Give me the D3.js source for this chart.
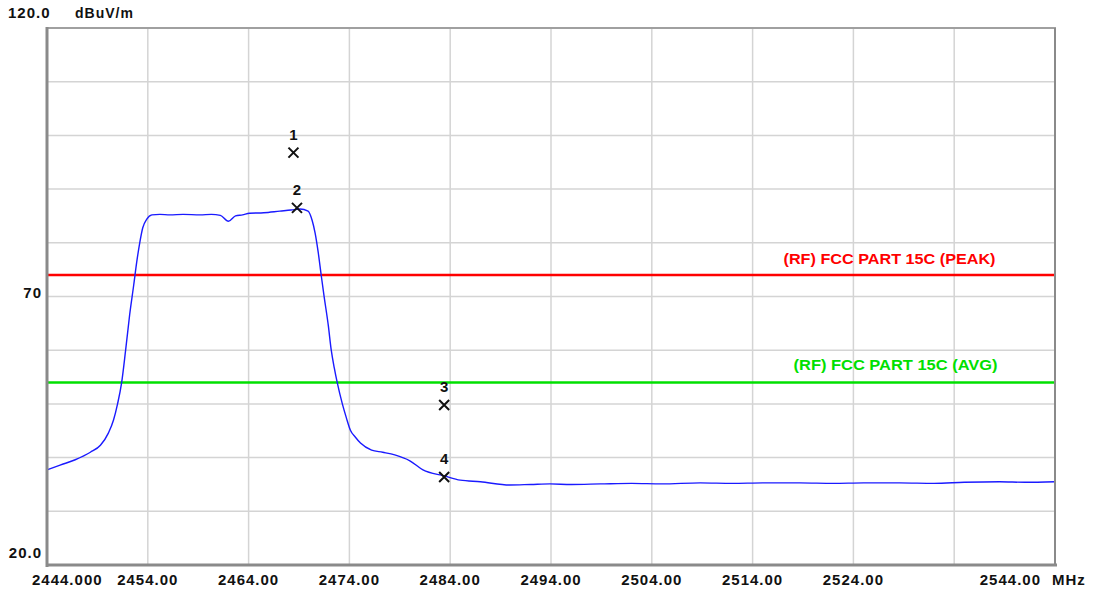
<!DOCTYPE html>
<html><head><meta charset="utf-8">
<script src="https://cdn.jsdelivr.net/npm/d3@7"></script>
<style>
html,body{margin:0;padding:0;background:#fff;}
text{font-family:"Liberation Sans",Arial,sans-serif;font-weight:bold;}
</style></head>
<body><svg id="c" width="1094" height="591"></svg>
<script>
// ---- data ----
const freqMHz = [2444.0,2445.3,2446.8,2448.3,2449.3,2450.1,2450.6,2451.0,2451.4,2451.8,2452.2,2452.6,2452.9,2453.2,2453.5,2453.9,2454.4,2455.2,2456.2,2457.5,2459.2,2460.3,2461.2,2462.0,2462.7,2463.4,2464.1,2465.5,2467.1,2468.2,2469.1,2469.9,2470.3,2470.6,2470.9,2471.2,2471.5,2471.9,2472.2,2472.5,2472.8,2473.3,2473.7,2474.1,2474.6,2475.1,2476.2,2477.3,2478.5,2480.0,2481.3,2483.4,2485.0,2487.0,2489.9,2492.0,2493.9,2496.0,2498.9,2502.0,2505.0,2508.8,2512.0,2515.0,2518.7,2522.0,2525.0,2528.6,2532.0,2535.0,2538.5,2541.0,2544.0];
const levelDb = [37.7,38.6,39.6,41.0,42.3,44.6,47.0,50.0,53.9,60.0,66.6,72.1,76.4,80.0,82.8,84.4,85.2,85.3,85.2,85.3,85.2,85.3,85.1,84.0,85.0,85.2,85.5,85.6,85.9,86.1,86.3,85.9,84.2,81.8,78.3,74.0,69.9,64.7,60.0,56.7,53.9,50.0,47.4,45.1,43.8,42.7,41.4,41.0,40.5,39.4,37.7,36.6,35.8,35.5,34.9,35.0,35.1,35.0,35.1,35.2,35.1,35.3,35.2,35.3,35.3,35.2,35.3,35.3,35.2,35.4,35.5,35.4,35.5];
const markerIds = ["1","2","3","4"];
const markerFreq = [2468.45,2468.8,2483.4,2483.4];
const markerLevel = [96.8,86.5,49.8,36.4];
const limitNames = ["(RF) FCC PART 15C (PEAK)","(RF) FCC PART 15C (AVG)"];
const limitLevel = [74,54];
const limitColor = ["#ff0000","#00e000"];
const xTicks = [2444,2454,2464,2474,2484,2494,2504,2514,2524,2534,2544];
const xTickLabels = ["2444.000","2454.00","2464.00","2474.00","2484.00","2494.00","2504.00","2514.00","2524.00","","2544.00"];
const yTicks = [20,30,40,50,60,70,80,90,100,110,120];
const yTickLabels = {120:"120.0",70:"70",20:"20.0"};
const yUnit = "dBuV/m", xUnit = "MHz";

// ---- layout ----
const svg = d3.select("#c");
const L=47,R=1055,T=28,B=565;
const x = d3.scaleLinear().domain([2444,2544]).range([L,R]);
const y = d3.scaleLinear().domain([20,120]).range([B,T]);

// grid
svg.append("g").selectAll("line").data(xTicks.slice(1,-1)).join("line")
  .attr("x1",d=>x(d)).attr("x2",d=>x(d)).attr("y1",T).attr("y2",B)
  .attr("stroke","#d4d4d4").attr("stroke-width",1.5);
svg.append("g").selectAll("line").data(yTicks.slice(1,-1)).join("line")
  .attr("x1",L).attr("x2",R).attr("y1",d=>y(d)).attr("y2",d=>y(d))
  .attr("stroke","#d4d4d4").attr("stroke-width",1.5);

// limit lines
limitLevel.forEach((v,i)=>{
  svg.append("line").attr("x1",L).attr("x2",R).attr("y1",y(v)).attr("y2",y(v))
    .attr("stroke",limitColor[i]).attr("stroke-width",2.5);
});
svg.append("text").attr("x",x(2538.1)).attr("y",y(limitLevel[0])-11)
  .attr("text-anchor","end").attr("fill",limitColor[0]).attr("font-size",14)
  .attr("textLength",212).attr("lengthAdjust","spacingAndGlyphs").text(limitNames[0]);
svg.append("text").attr("x",x(2538.3)).attr("y",y(limitLevel[1])-12)
  .attr("text-anchor","end").attr("fill",limitColor[1]).attr("font-size",14)
  .attr("textLength",204).attr("lengthAdjust","spacingAndGlyphs").text(limitNames[1]);

// trace
const pts = freqMHz.map((f,i)=>[f,levelDb[i]]);
svg.append("path").datum(pts)
  .attr("d",d3.line().x(d=>x(d[0])).y(d=>y(d[1])).curve(d3.curveMonotoneX))
  .attr("fill","none").attr("stroke","#1a1aff").attr("stroke-width",1.4);

// markers
markerIds.forEach((id,i)=>{
  const cx=x(markerFreq[i]), cy=y(markerLevel[i]), s=5;
  svg.append("path").attr("d",`M${cx-s},${cy-s}L${cx+s},${cy+s}M${cx+s},${cy-s}L${cx-s},${cy+s}`)
    .attr("stroke","#111").attr("stroke-width",2).attr("fill","none");
  svg.append("text").attr("x",cx).attr("y",cy-13).attr("text-anchor","middle")
    .attr("font-size",15).attr("fill","#111").text(id);
});

// frame
svg.append("rect").attr("x",L).attr("y",T).attr("width",R-L).attr("height",B-T)
  .attr("fill","none").attr("stroke","#a0a0a0").attr("stroke-width",2);
svg.append("line").attr("x1",L).attr("x2",L).attr("y1",T-1).attr("y2",B+2).attr("stroke","#8a8a8a").attr("stroke-width",3);
svg.append("line").attr("x1",L-1).attr("x2",R+2).attr("y1",B).attr("y2",B).attr("stroke","#8a8a8a").attr("stroke-width",3);
svg.append("line").attr("x1",R).attr("x2",R).attr("y1",T).attr("y2",B).attr("stroke","#8a8a8a").attr("stroke-width",2);

// x tick labels
xTicks.forEach((t,i)=>{
  const lab = xTickLabels[i]; if(!lab) return;
  let anchor="middle", px=x(t);
  if(i===0){anchor="start"; px=x(t)-15;}
  if(i===xTicks.length-1){anchor="end"; px=x(t)-14;}
  svg.append("text").attr("x",px).attr("y",585).attr("text-anchor",anchor)
    .attr("font-size",15).attr("letter-spacing",1).attr("fill","#111").text(lab);
});
svg.append("text").attr("x",1052).attr("y",585).attr("font-size",15).attr("letter-spacing",1).attr("fill","#111").text(xUnit);

// y tick labels
svg.append("text").attr("x",8).attr("y",y(120)-10).attr("font-size",15).attr("letter-spacing",1).attr("fill","#111").text(yTickLabels[120]);
svg.append("text").attr("x",75).attr("y",y(120)-10).attr("font-size",14).attr("letter-spacing",1).attr("fill","#111").text(yUnit);
svg.append("text").attr("x",42).attr("y",y(70)+1).attr("text-anchor","end").attr("font-size",15).attr("letter-spacing",1).attr("fill","#111").text(yTickLabels[70]);
svg.append("text").attr("x",42).attr("y",y(20)-7).attr("text-anchor","end").attr("font-size",15).attr("letter-spacing",1).attr("fill","#111").text(yTickLabels[20]);
</script></body></html>
